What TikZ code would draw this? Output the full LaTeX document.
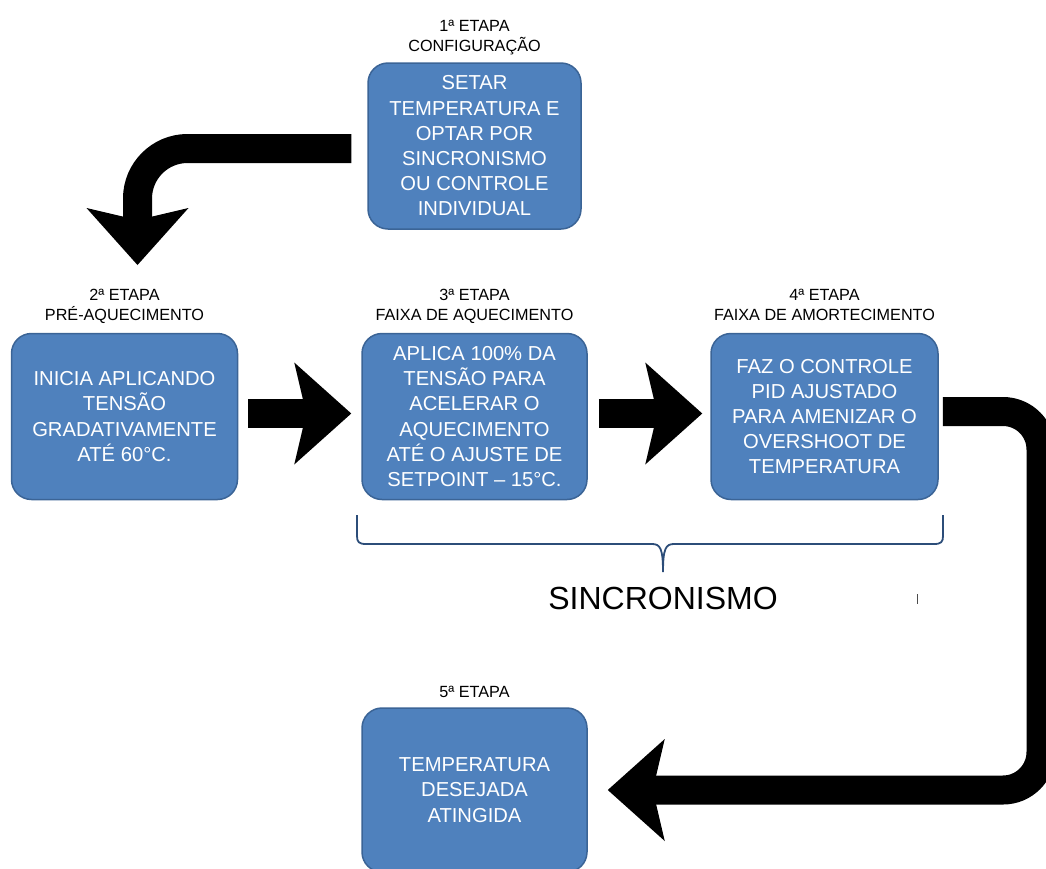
\documentclass[tikz,border=0pt]{standalone}
\usepackage{fontspec}
\setmainfont{Liberation Sans}
\usepackage{tikz}
\usetikzlibrary{arrows.meta,positioning}
\definecolor{stagefill}{HTML}{4F81BD}
\definecolor{stageedge}{HTML}{3B6496}
\definecolor{bracecol}{HTML}{2C4D79}
\tikzset{
    stage/.style={draw=stageedge, fill=stagefill, line width=1.5pt, rounded corners=20pt,
        text=white, align=center, inner sep=0pt, minimum height=166pt,
        font=\fontsize{20.2}{25.2}\selectfont},
    stagetitle/.style={align=center, inner sep=0pt, text depth=0pt,
        font=\fontsize{16.2}{20}\selectfont},
    bigarrow/.style={line width=29pt,
        -{Stealth[length=57pt,width=102pt,inset=12pt,line width=0pt]}}
}

\begin{document}
\begin{tikzpicture}[x=1pt,y=-1pt]
                        \useasboundingbox (0,0) rectangle (1046,868);
                        \clip (0,0) rectangle (1046,868);
                        \node[stage, minimum width=213pt] (b1) at (474.5,146) {SETAR\\TEMPERATURA E\\OPTAR POR\\SINCRONISMO\\OU CONTROLE\\INDIVIDUAL};
                        \node[stage, minimum width=226pt] (b2) at (124.5,416.5) {INICIA APLICANDO\\TENSÃO\\GRADATIVAMENTE\\ATÉ 60°C.};
                        \node[stage, minimum width=225pt] (b3) at (474.5,416.5) {APLICA 100\% DA\\TENSÃO PARA\\ACELERAR O\\AQUECIMENTO\\ATÉ O AJUSTE DE\\SETPOINT – 15°C.};
                        \node[stage, minimum width=227pt] (b4) at (824.5,416.5) {FAZ O CONTROLE\\PID AJUSTADO\\PARA AMENIZAR O\\OVERSHOOT DE\\TEMPERATURA};
                        \node[stage, minimum width=225pt, minimum height=164pt] (b5) at (474.5,790) {TEMPERATURA\\DESEJADA\\ATINGIDA};
                        \node[stagetitle, above=11pt of b1] (t1) {1ª ETAPA\\CONFIGURAÇÃO};
                        \node[stagetitle, above=12pt of b2] (t2) {2ª ETAPA\\PRÉ-AQUECIMENTO};
                        \node[stagetitle, above=12pt of b3] (t3) {3ª ETAPA\\FAIXA DE AQUECIMENTO};
                        \node[stagetitle, above=12pt of b4] (t4) {4ª ETAPA\\FAIXA DE AMORTECIMENTO};
                        \node[stagetitle, above=10pt of b5] (t5) {5ª ETAPA};
                        \node[font=\fontsize{32}{38}\selectfont] (sync) at (663,598) {SINCRONISMO};
                        \coordinate (drop) at (137.5,265);
                        \coordinate (rim) at (1041,600);
                        \draw[bigarrow, rounded corners=50pt] ([xshift=-16pt,yshift=-2.5pt]b1.west) -| (drop);
                        \draw[bigarrow] ([xshift=10pt,yshift=3pt]b2.east) -- ([xshift=-10pt,yshift=3pt]b3.west);
                        \draw[bigarrow] ([xshift=11pt,yshift=3pt]b3.east) -- ([xshift=-8pt,yshift=3pt]b4.west);
                        \draw[bigarrow, rounded corners=38pt] ([xshift=4pt,yshift=5pt]b4.east) -| (rim) |- ([xshift=20pt]b5.east);
                        \draw[bracecol, line width=1.8pt] (357,515) -- (357,536) .. controls (357,542) and (359,544) .. (366,544)
                            -- (652,544) .. controls (660,544) and (663,548) .. (663,572)
                            .. controls (663,548) and (666,544) .. (674,544) -- (934,544)
                            .. controls (941,544) and (943,542) .. (943,536) -- (943,515);
                        \draw[gray!60!black, line width=0.6pt] (917,594) -- (917,604);
                    \end{tikzpicture}
\end{document}
